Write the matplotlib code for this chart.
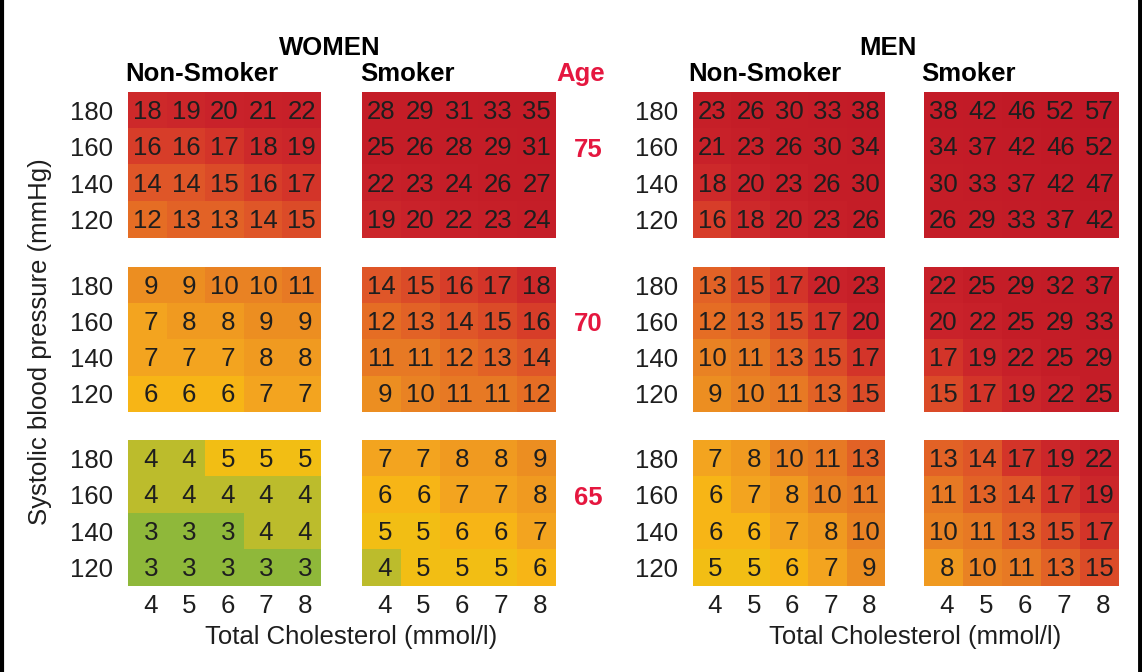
import numpy as np
import matplotlib
matplotlib.use("Agg")
import matplotlib.pyplot as plt
from matplotlib.colors import LinearSegmentedColormap, Normalize
from matplotlib.lines import Line2D

plt.rcParams['font.family'] = ['Liberation Sans', 'DejaVu Sans']

# ---------------- data ----------------
sbp_labels = ["180", "160", "140", "120"]          # rows, top to bottom
chol_labels = [4, 5, 6, 7, 8]                      # columns
ages = ["75", "70", "65"]                          # panel rows, top to bottom

women_nonsmoker_75 = [[18, 19, 20, 21, 22], [16, 16, 17, 18, 19], [14, 14, 15, 16, 17], [12, 13, 13, 14, 15]]
women_smoker_75 = [[28, 29, 31, 33, 35], [25, 26, 28, 29, 31], [22, 23, 24, 26, 27], [19, 20, 22, 23, 24]]
women_nonsmoker_70 = [[9, 9, 10, 10, 11], [7, 8, 8, 9, 9], [7, 7, 7, 8, 8], [6, 6, 6, 7, 7]]
women_smoker_70 = [[14, 15, 16, 17, 18], [12, 13, 14, 15, 16], [11, 11, 12, 13, 14], [9, 10, 11, 11, 12]]
women_nonsmoker_65 = [[4, 4, 5, 5, 5], [4, 4, 4, 4, 4], [3, 3, 3, 4, 4], [3, 3, 3, 3, 3]]
women_smoker_65 = [[7, 7, 8, 8, 9], [6, 6, 7, 7, 8], [5, 5, 6, 6, 7], [4, 5, 5, 5, 6]]

men_nonsmoker_75 = [[23, 26, 30, 33, 38], [21, 23, 26, 30, 34], [18, 20, 23, 26, 30], [16, 18, 20, 23, 26]]
men_smoker_75 = [[38, 42, 46, 52, 57], [34, 37, 42, 46, 52], [30, 33, 37, 42, 47], [26, 29, 33, 37, 42]]
men_nonsmoker_70 = [[13, 15, 17, 20, 23], [12, 13, 15, 17, 20], [10, 11, 13, 15, 17], [9, 10, 11, 13, 15]]
men_smoker_70 = [[22, 25, 29, 32, 37], [20, 22, 25, 29, 33], [17, 19, 22, 25, 29], [15, 17, 19, 22, 25]]
men_nonsmoker_65 = [[7, 8, 10, 11, 13], [6, 7, 8, 10, 11], [6, 6, 7, 8, 10], [5, 5, 6, 7, 9]]
men_smoker_65 = [[13, 14, 17, 19, 22], [11, 13, 14, 17, 19], [10, 11, 13, 15, 17], [8, 10, 11, 13, 15]]

# ---------------- colours ----------------
anchors = [(2.5, "#7cb53e"), (3, "#92b93a"), (4, "#c4bd2a"), (5, "#f3bf14"), (6, "#f8b417"),
           (7, "#f4a51f"), (8, "#f09a21"), (9, "#ec8c22"), (10, "#e98224"), (12, "#e56d25"),
           (14, "#df5628"), (16, "#d83e29"), (18, "#ce2a2a"), (20, "#c9222a"), (25, "#c51e28"),
           (60, "#c01826")]
vmin, vmax = anchors[0][0], anchors[-1][0]
cmap = LinearSegmentedColormap.from_list(
    "risk", [((v - vmin) / (vmax - vmin), c) for v, c in anchors])
norm = Normalize(vmin=vmin, vmax=vmax)

W, H = 1142, 672
fig = plt.figure(figsize=(W / 100, H / 100), dpi=100)

TXT = "#1e1e1e"
RED = "#e5173f"
FS = 18.5

col_x = [(128, 321), (362, 556), (693, 885), (924, 1119)]
row_y = [(92, 238), (267, 412), (440, 586)]

panels = [
    [women_nonsmoker_75, women_smoker_75, men_nonsmoker_75, men_smoker_75],
    [women_nonsmoker_70, women_smoker_70, men_nonsmoker_70, men_smoker_70],
    [women_nonsmoker_65, women_smoker_65, men_nonsmoker_65, men_smoker_65],
]


def px_axes(x0, y0, x1, y1):
    return fig.add_axes([x0 / W, 1 - y1 / H, (x1 - x0) / W, (y1 - y0) / H])


for r, (y0, y1) in enumerate(row_y):
    for c, (x0, x1) in enumerate(col_x):
        data = np.array(panels[r][c])
        ax = px_axes(x0, y0, x1, y1)
        ax.imshow(data, cmap=cmap, norm=norm, aspect="auto", interpolation="nearest")
        for i in range(data.shape[0]):
            for j in range(data.shape[1]):
                ax.text(j, i + 0.04, "%2d" % data[i, j], ha="center", va="center",
                        fontsize=FS, color=TXT)
        for s in ax.spines.values():
            s.set_visible(False)
        ax.tick_params(length=0)
        if c in (0, 2):
            ax.set_yticks(range(4))
            ax.set_yticklabels(sbp_labels, fontsize=FS, color=TXT)
            ax.tick_params(axis="y", pad=11)
        else:
            ax.set_yticks([])
        if r == 2:
            ax.set_xticks(range(5))
            ax.set_xticklabels(["%2d" % v for v in chol_labels], fontsize=FS, color=TXT)
            ax.tick_params(axis="x", pad=6)
        else:
            ax.set_xticks([])

# age labels (aligned with the 160 mmHg row)
for (y0, y1), a in zip(row_y, ages):
    yc = y0 + (y1 - y0) * 0.375 + 3
    fig.text(588 / W, 1 - yc / H, a, ha="center", va="center",
             fontsize=FS, fontweight="bold", color=RED)

# headers
fig.text(330 / W, 1 - 48 / H, "WOMEN", ha="center", va="center", fontsize=FS, fontweight="bold", color="black")
fig.text(888 / W, 1 - 48 / H, "MEN", ha="center", va="center", fontsize=FS, fontweight="bold", color="black")
for x, s in [(125, "Non-Smoker"), (360, "Smoker"), (688, "Non-Smoker"), (921, "Smoker")]:
    fig.text(x / W, 1 - 74 / H, s, ha="left", va="center", fontsize=FS, fontweight="bold", color="black")
fig.text(556 / W, 1 - 74 / H, "Age", ha="left", va="center", fontsize=FS, fontweight="bold", color=RED)

# axis titles
fig.text(351 / W, 1 - 637 / H, "Total Cholesterol (mmol/l)", ha="center", va="center", fontsize=FS, color=TXT)
fig.text(915 / W, 1 - 637 / H, "Total Cholesterol (mmol/l)", ha="center", va="center", fontsize=FS, color=TXT)
fig.text(40 / W, 1 - 342 / H, "Systolic blood pressure (mmHg)", ha="center", va="center",
         rotation=90, fontsize=FS, color=TXT)

# frame edges
fig.add_artist(Line2D([1.5 / W, 1.5 / W], [0, 1], color="black", lw=3, transform=fig.transFigure))
fig.add_artist(Line2D([1139.5 / W, 1139.5 / W], [0, 1], color="black", lw=3.5, transform=fig.transFigure))

fig.savefig("out.png", dpi=100)
